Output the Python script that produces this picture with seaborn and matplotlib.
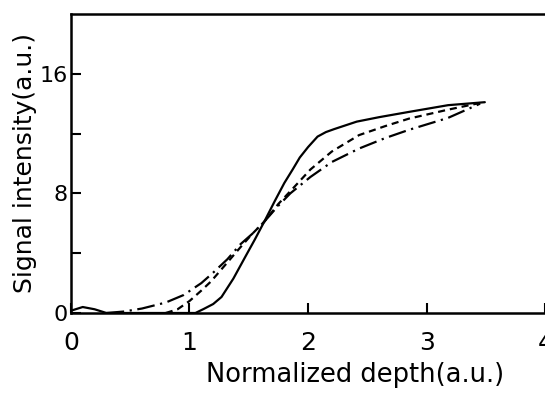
import numpy as np
import pandas as pd
import matplotlib
matplotlib.use("Agg")
import matplotlib.pyplot as plt
import seaborn as sns

# values
solid_x = [0.0, 0.1, 0.2, 0.3, 0.5, 0.8, 1.05, 1.12, 1.2, 1.27, 1.37, 1.47, 1.55,
           1.63, 1.72, 1.8, 1.87, 1.93, 2.0, 2.08, 2.15, 2.22, 2.41, 2.6, 2.85, 3.18, 3.49]
solid_y = [0.15, 0.4, 0.25, 0.0, 0.0, 0.0, 0.0, 0.27, 0.6, 1.07, 2.3, 3.75, 4.9,
           6.1, 7.5, 8.7, 9.6, 10.4, 11.1, 11.8, 12.1, 12.3, 12.8, 13.1, 13.45, 13.9, 14.1]

dashed_x = [0.8, 0.9, 1.0, 1.1, 1.18, 1.3, 1.43, 1.53, 1.63, 1.75, 1.88, 2.02,
            2.2, 2.43, 2.65, 2.85, 3.18, 3.45]
dashed_y = [0.0, 0.25, 0.8, 1.5, 2.1, 3.2, 4.4, 5.3, 6.1, 7.3, 8.4, 9.6,
            10.8, 11.9, 12.5, 13.0, 13.6, 14.05]

dashdot_x = [0.3, 0.45, 0.6, 0.8, 0.95, 1.1, 1.2, 1.32, 1.43, 1.53, 1.63, 1.74,
             1.85, 2.02, 2.2, 2.43, 2.65, 2.85, 3.18, 3.45]
dashdot_y = [0.0, 0.1, 0.3, 0.7, 1.2, 2.0, 2.7, 3.6, 4.6, 5.3, 6.1, 7.1,
             8.0, 9.1, 10.1, 11.0, 11.7, 12.25, 13.05, 14.0]

x_ticks = [0, 1, 2, 3, 4]
y_ticks = [0, 4, 8, 12, 16]
y_tick_labels = ["0", "", "8", "", "16"]

sns.set_style("ticks")
plt.rcParams["font.family"] = ["DejaVu Sans"]
plt.rcParams["text.color"] = "black"
plt.rcParams["axes.labelcolor"] = "black"
plt.rcParams["xtick.color"] = "black"
plt.rcParams["ytick.color"] = "black"

fig = plt.figure(figsize=(5.45, 3.95), dpi=100)
ax = fig.add_axes([0.130, 0.2076, 0.925, 0.757])

curves = [
    (solid_x, solid_y, "-"),
    (dashed_x, dashed_y, (0, (3.2, 2.2))),
    (dashdot_x, dashdot_y, (0, (8.0, 2.5, 1.0, 2.5))),
]
for xs, ys, ls in curves:
    df = pd.DataFrame({"depth": xs, "signal": ys})
    sns.lineplot(data=df, x="depth", y="signal", ax=ax, color="black",
                 linewidth=1.6, linestyle=ls, sort=False, estimator=None)

ax.set_xlim(0, 4.25)
ax.set_ylim(0, 20)
ax.set_xticks(x_ticks)
ax.set_yticks(y_ticks)
ax.set_yticklabels(y_tick_labels)

for side in ["left", "bottom", "top", "right"]:
    ax.spines[side].set_linewidth(1.8)
    ax.spines[side].set_color("black")

ax.tick_params(axis="x", direction="in", length=7, width=1.5, pad=13, labelsize=18)
ax.tick_params(axis="y", direction="in", length=7, width=1.5, pad=2, labelsize=16)

ax.set_xlabel("Normalized depth(a.u.)", fontsize=18.5)
ax.set_ylabel("Signal intensity(a.u.)", fontsize=18)
ax.xaxis.set_label_coords(0.563, -0.163)
ax.yaxis.set_label_coords(-0.068, 0.5)

fig.savefig("out.png", dpi=100)
plt.close(fig)
